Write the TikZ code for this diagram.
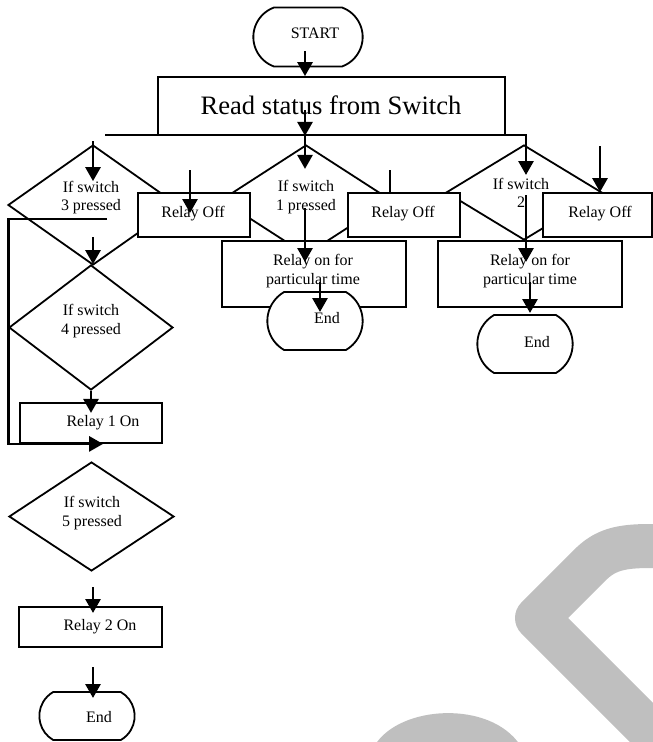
\documentclass[tikz,border=0pt]{standalone}
\usepackage{fontspec}
\setmainfont{Liberation Serif}
\usetikzlibrary{arrows.meta,shapes.geometric,shapes.misc}

\begin{document}
\begin{tikzpicture}[
    x=1pt, y=-1pt,
    line width=1.8pt,
    txt/.style={inner sep=0pt, align=center, font=\fontsize{16}{18.5}\selectfont},
    box/.style={rectangle, draw, fill=white},
    decision/.style={diamond, draw, inner sep=0pt},
    term/.style={rounded rectangle, rounded rectangle arc length=120, draw, fill=white},
    arr/.style={-{Triangle[length=14pt,width=15pt]}, line width=2.8pt},
    flow/.style={line width=2.8pt},
    wm/.style={black!25}
]
\useasboundingbox (0,0) rectangle (653,742);

% watermark
\begin{scope}
\clip (0,0) rectangle (653,742);
\draw[wm, line width=44pt, line join=round] (700,546) -- (650,546)
    .. controls (620,546) and (605,550) .. (590,565) -- (537,618) -- (700,781);
\fill[wm] (375,745) .. controls (400,705) and (490,700) .. (520,745) -- cycle;
\end{scope}

% decisions
\node[decision, minimum width=170pt, minimum height=120pt] (sw3) at (93,205) {};
\node[decision, minimum width=170pt, minimum height=110pt] (sw1) at (306,200) {};
\node[decision, minimum width=156pt, minimum height=95pt] (sw2) at (524,192.5) {};
\node[decision, minimum width=164pt, minimum height=125pt] (sw4) at (91,327.5) {};
\node[decision, minimum width=165pt, minimum height=109pt] (sw5) at (91.5,516.5) {};

% boxes
\node[box, minimum width=347pt, minimum height=58pt] (read) at (331.5,106) {};
\node[box, minimum width=112pt, minimum height=44pt] (off1) at (194,215) {};
\node[box, minimum width=112pt, minimum height=44pt] (off2) at (404,215) {};
\node[box, minimum width=109pt, minimum height=44pt] (off3) at (597.5,215) {};
\node[box, minimum width=184pt, minimum height=66pt] (on1) at (314,274) {};
\node[box, minimum width=184pt, minimum height=66pt] (on2) at (530,274) {};
\node[box, minimum width=142pt, minimum height=40pt] (r1on) at (91,423) {};
\node[box, minimum width=143pt, minimum height=40pt] (r2on) at (90.5,627) {};

% terminals
\node[term, rounded rectangle arc length=140, minimum width=116pt, minimum height=59pt] (start) at (308,37) {};
\node[term, minimum width=102pt, minimum height=58pt] (end1) at (315,321) {};
\node[term, minimum width=102pt, minimum height=58pt] (end2) at (525,344) {};
\node[term, minimum width=102pt, minimum height=48pt] (end3) at (87,716) {};

% texts
\node[txt] (startt) at (315,33) {START};
\node[txt, font=\fontsize{26.6}{30}\selectfont] (readt) at (331,105) {Read status from Switch};
\node[txt] (sw3t) at (91,197.5) {If switch\\3 pressed};
\node[txt] (sw1t) at (306,197) {If switch\\1 pressed};
\node[txt] (sw2t) at (521,193) {If switch\\2};
\node[txt] (sw4t) at (91,321) {If switch\\4 pressed};
\node[txt] (sw5t) at (92,513) {If switch\\5 pressed};
\node[txt] (off1t) at (193,214) {Relay Off};
\node[txt] (off2t) at (403,214) {Relay Off};
\node[txt] (off3t) at (600,214) {Relay Off};
\node[txt] (on1t) at (313,271) {Relay on for\\particular time};
\node[txt] (on2t) at (530,271) {Relay on for\\particular time};
\node[txt] (r1ont) at (103,423) {Relay 1 On};
\node[txt] (r2ont) at (100,627) {Relay 2 On};
\node[txt] (end1t) at (327,318) {End};
\node[txt] (end2t) at (537,342) {End};
\node[txt] (end3t) at (99,717) {End};

% connectors
\coordinate (a0) at (305,51);
\draw[arr] (a0) -- (a0 |- read.north);
\coordinate (a1) at (305,110);
\draw[arr] (a1) -- (a1 |- read.south);
\coordinate (busL) at (105,135);
\coordinate (busR) at (526,135);
\draw[arr] (busL) -- (busR) -- ++(0,40);
\draw[arr] (a1 |- read.south) -- ++(0,33);
\draw[arr] ([yshift=3pt]sw3.north) -- ++(0,40);
\coordinate (b1) at (190,170);
\draw[arr] (b1) -- ++(0,43);
\coordinate (b2) at (390,170);
\draw[flow] (b2) -- (b2 |- off2.north);
\coordinate (b3) at (600,146);
\draw[arr] (b3) -- (b3 |- off3.north);
\coordinate (c1) at (93,237);
\draw[arr] (c1) -- (c1 |- sw4.north);
\coordinate (loop) at (107,219);
\draw[arr] (loop) -- (loop -| sw4.west) -- (sw4.west |- r1on.south) -- ++(95,0);
\draw[arr] (sw4.south) -- ++(0,22);
\coordinate (c5) at (93,587);
\draw[arr] (c5) -- ++(0,26);
\coordinate (c6) at (93,667);
\draw[arr] (c6) -- ++(0,31);
\coordinate (d1) at (305,208);
\draw[arr] (d1) -- ++(0,54);
\coordinate (d2) at (320,282);
\draw[arr] (d2) -- ++(0,30);
\coordinate (e1) at (526,195);
\draw[arr] (e1) -- ++(0,67);
\coordinate (e2) at (530,282);
\draw[arr] (e2) -- ++(0,31);
\end{tikzpicture}
\end{document}
